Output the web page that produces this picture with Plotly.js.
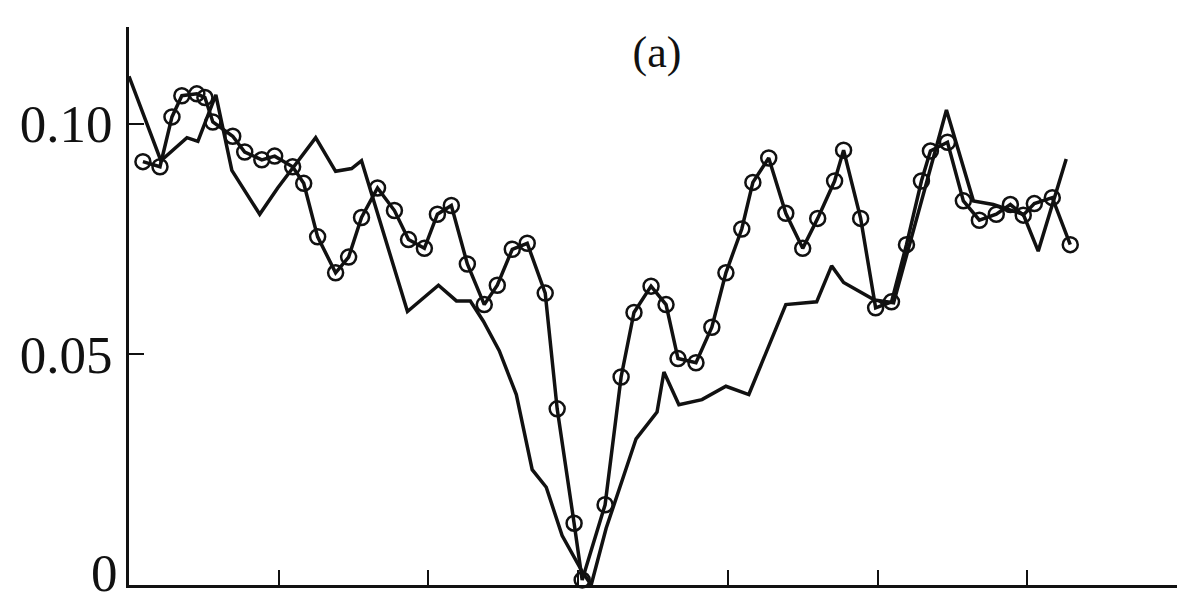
<!DOCTYPE html>
<html>
<head>
<meta charset="utf-8">
<script src="https://cdn.plot.ly/plotly-3.0.1.min.js"></script>
<style>
  html, body { margin: 0; padding: 0; background: #ffffff; }
  #chart { width: 1177px; height: 605px; }
</style>
</head>
<body>
<div id="chart"></div>
<script>
// Series with open-circle markers
const markedX = [0.93, 2.07, 2.87, 3.53, 4.53, 5.07, 5.6, 6.93, 7.73, 8.87, 9.73, 10.93, 11.67, 12.6, 13.8, 14.67,
  15.53, 16.6, 17.73, 18.67, 19.73, 20.6, 21.53, 22.6, 23.73, 24.6, 25.6, 26.6, 27.8, 28.6, 29.73, 30.27,
  31.8, 32.87, 33.73, 34.87, 35.87, 36.67, 37.87, 38.93, 39.87, 40.93, 41.67, 42.73, 43.87, 45, 46,
  47.13, 47.73, 48.87, 49.87, 50.93, 51.93, 52.93, 53.53, 54.67, 55.73, 56.8, 57.93, 58.87, 59.73, 60.47,
  61.67, 62.87];
const markedY = [0.0918, 0.0907, 0.1015, 0.1061, 0.1065, 0.1057, 0.1004, 0.0973, 0.0939, 0.0922, 0.0930, 0.0907,
  0.0871, 0.0755, 0.0677, 0.0711, 0.0797, 0.0861, 0.0812, 0.0749, 0.0730, 0.0804, 0.0823, 0.0696, 0.0608,
  0.0650, 0.0728, 0.0741, 0.0633, 0.0382, 0.0134, 0.0011, 0.0174, 0.0451, 0.0591, 0.0648, 0.0608, 0.0491,
  0.0482, 0.0559, 0.0677, 0.0772, 0.0873, 0.0926, 0.0806, 0.0730, 0.0795, 0.0876, 0.0943, 0.0795, 0.0601,
  0.0614, 0.0738, 0.0876, 0.0941, 0.0960, 0.0833, 0.0791, 0.0804, 0.0825, 0.0802, 0.0827, 0.0840, 0.0738];

// Plain line series
const plainX = [0, 2.13, 3.87, 4.6, 5.8, 6.87, 8.73, 9.93, 12.47, 13.8, 14.87, 15.53, 18.6, 20.67, 21.87, 22.8,
  23.67, 24.73, 25.87, 26.93, 27.87, 28.93, 30.27, 30.87, 31.87, 33.87, 35.27, 35.73, 36.73, 38.27, 39.87,
  41.4, 43.87, 45.93, 46.93, 47.73, 49.8, 51.07, 54.6, 56.4, 57.73, 59.73, 60.73, 62.6];
const plainY = [0.1103, 0.0920, 0.0970, 0.0962, 0.1063, 0.0899, 0.0804, 0.0861, 0.0970, 0.0897, 0.0903, 0.0920,
  0.0593, 0.0650, 0.0616, 0.0616, 0.0572, 0.0508, 0.0413, 0.0250, 0.0212, 0.0107, 0.0029, 0.0, 0.0123,
  0.0317, 0.0375, 0.0462, 0.0391, 0.0402, 0.0431, 0.0413, 0.0608, 0.0614, 0.0692, 0.0656, 0.0618, 0.0612,
  0.1030, 0.0833, 0.0825, 0.0804, 0.0724, 0.0924];

// Axis ticks
const yTickVals = [0.05, 0.10];
const yTickText = ['0.05', '0.10'];
const yZeroVal = 0;
const yZeroText = '0';
const xTickVals = [10, 20, 30, 40, 50, 60, 70];
const titleText = '(a)';

const serif = 'Liberation Serif, Times New Roman, serif';
const tickFont = { family: serif, size: 53, color: '#111111' };

const traces = [
  {
    x: plainX, y: plainY, type: 'scatter', mode: 'lines',
    line: { color: '#111111', width: 3.5 },
    hoverinfo: 'x+y', showlegend: false, cliponaxis: false
  },
  {
    x: markedX, y: markedY, type: 'scatter', mode: 'lines+markers',
    line: { color: '#111111', width: 3.5 },
    marker: { symbol: 'circle-open', size: 15, color: '#111111', line: { width: 2.5, color: '#111111' } },
    hoverinfo: 'x+y', showlegend: false, cliponaxis: false
  }
];

const layout = {
  width: 1177, height: 605,
  paper_bgcolor: '#ffffff', plot_bgcolor: '#ffffff',
  margin: { l: 129, r: 0, t: 27, b: 20, pad: 0 },
  showlegend: false,
  title: {
    text: titleText,
    font: { family: serif, size: 44, color: '#111111' },
    x: 657 / 1177, xanchor: 'center', xref: 'container',
    y: 1 - 52 / 605, yanchor: 'middle', yref: 'container'
  },
  xaxis: {
    range: [0, 70], showgrid: false, zeroline: false,
    showline: true, linecolor: '#111111', linewidth: 3,
    ticks: 'inside', ticklen: 15, tickwidth: 2, tickcolor: '#111111',
    tickmode: 'array', tickvals: xTickVals, showticklabels: false
  },
  yaxis: {
    range: [0, 0.121], showgrid: false, zeroline: false,
    showline: true, linecolor: '#111111', linewidth: 3,
    ticks: 'inside', ticklen: 15, tickwidth: 2, tickcolor: '#111111',
    tickmode: 'array', tickvals: yTickVals, ticktext: yTickText,
    tickfont: tickFont,
    ticklabelstandoff: 3
  },
  annotations: [{
    text: yZeroText, xref: 'paper', x: 0, yref: 'y', y: yZeroVal,
    xanchor: 'right', yanchor: 'bottom', xshift: -10, yshift: -18,
    borderpad: 0, showarrow: false, font: tickFont
  }]
};

Plotly.newPlot('chart', traces, layout, { displayModeBar: false, staticPlot: true });
</script>
</body>
</html>
